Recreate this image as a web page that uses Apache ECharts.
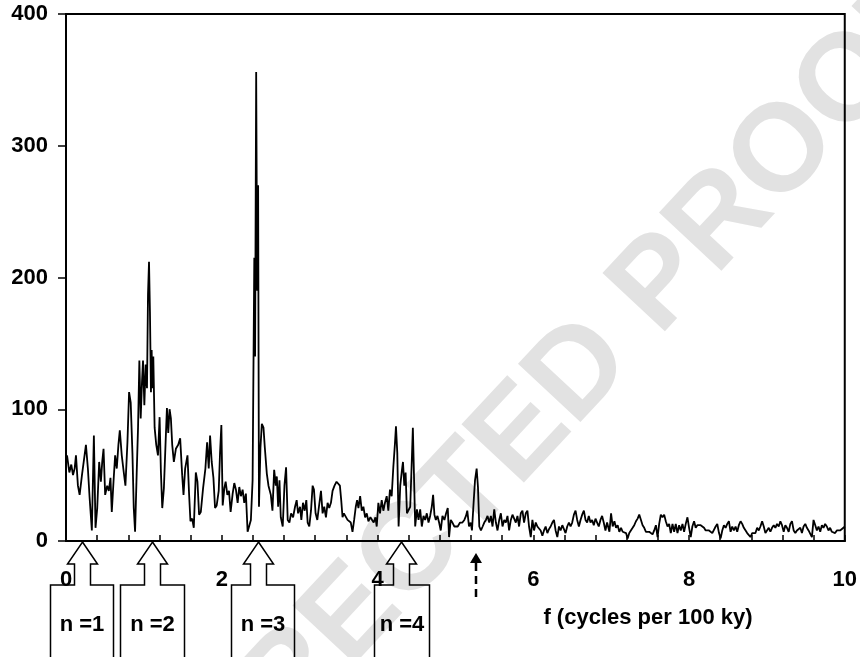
<!DOCTYPE html>
<html>
<head>
<meta charset="utf-8">
<script src="https://cdn.jsdelivr.net/npm/echarts/dist/echarts.min.js"></script>
<style>
  html, body { margin: 0; padding: 0; background: #fff; }
  #chart { width: 860px; height: 657px; }
</style>
</head>
<body>
<div id="chart"></div>
<script>
// frequency (cycles per 100 ky) and spectral power
var freq = [
    0.013, 0.043, 0.068, 0.090, 0.111, 0.128, 0.153, 0.175, 0.205, 0.230, 0.256, 0.281, 0.303, 0.332, 0.358, 0.379,
    0.401, 0.426, 0.448, 0.465, 0.482, 0.503, 0.529, 0.550, 0.571, 0.588, 0.610, 0.631, 0.652, 0.673, 0.691, 0.716,
    0.742, 0.763, 0.789, 0.810, 0.831, 0.853, 0.870, 0.887, 0.908, 0.925, 0.942, 0.959, 0.976, 0.989, 1.006, 1.023,
    1.040, 1.053, 1.066, 1.078, 1.091, 1.100, 1.108, 1.121, 1.138, 1.159, 1.181, 1.202, 1.219, 1.236, 1.257, 1.279,
    1.296, 1.313, 1.330, 1.347, 1.364, 1.385, 1.411, 1.441, 1.466, 1.492, 1.509, 1.530, 1.560, 1.581, 1.598, 1.620,
    1.641, 1.667, 1.688, 1.709, 1.731, 1.760, 1.790, 1.812, 1.833, 1.850, 1.871, 1.893, 1.914, 1.935, 1.961, 1.978,
    1.995, 2.012, 2.033, 2.050, 2.072, 2.093, 2.114,
    2.140, 2.161, 2.182, 2.204, 2.225, 2.246, 2.268, 2.289, 2.310, 2.332, 2.353, 2.374, 2.396, 2.418, 2.428, 2.442,
    2.455, 2.467, 2.478, 2.497, 2.515, 2.536, 2.553, 2.579, 2.600, 2.630, 2.651, 2.673, 2.694, 2.707, 2.724, 2.741,
    2.758, 2.783, 2.805, 2.826, 2.847, 2.869, 2.890, 2.916, 2.941, 2.962, 2.980, 3.005, 3.022, 3.043, 3.065, 3.086,
    3.103, 3.124, 3.146, 3.167, 3.184, 3.205, 3.227, 3.248, 3.274, 3.295, 3.316, 3.338, 3.359, 3.380, 3.402, 3.423,
    3.448, 3.474, 3.495, 3.517, 3.534, 3.551, 3.568, 3.593, 3.615, 3.636, 3.657, 3.679, 3.700, 3.721, 3.738, 3.755,
    3.777, 3.798, 3.819, 3.841, 3.862, 3.883, 3.909, 3.930, 3.951, 3.973, 3.990, 4.011, 4.032, 4.054, 4.075, 4.096,
    4.118, 4.139, 4.160, 4.182, 4.203, 4.224, 4.237, 4.254, 4.271, 4.292, 4.314, 4.327, 4.344, 4.361, 4.378, 4.399,
    4.420, 4.442, 4.454,
    4.484, 4.506, 4.527, 4.548, 4.569, 4.591, 4.612, 4.633, 4.655, 4.676, 4.697, 4.714, 4.731, 4.749, 4.770, 4.791,
    4.812, 4.834, 4.859, 4.881, 4.902, 4.919, 4.940, 4.962, 4.987, 5.009, 5.030, 5.060, 5.090, 5.115, 5.136, 5.153,
    5.175, 5.196, 5.213, 5.234, 5.252, 5.273, 5.290, 5.307, 5.328, 5.350, 5.371, 5.392, 5.413, 5.435, 5.456, 5.477,
    5.499, 5.520, 5.541, 5.563, 5.584, 5.605, 5.627, 5.648, 5.669, 5.690, 5.712, 5.733, 5.754, 5.776, 5.797, 5.818,
    5.840, 5.861, 5.882, 5.904, 5.925, 5.946, 5.968, 5.989, 6.010, 6.032, 6.053, 6.074, 6.095, 6.117, 6.138, 6.159,
    6.181, 6.202, 6.223, 6.245, 6.266, 6.287, 6.309, 6.330, 6.351, 6.373, 6.394, 6.415, 6.436, 6.458, 6.479, 6.500,
    6.522, 6.543, 6.564, 6.586, 6.607, 6.628, 6.650, 6.671, 6.692, 6.713, 6.735, 6.756, 6.777, 6.799, 6.820, 6.841,
    6.863, 6.884, 6.905, 6.927, 6.948,
    6.978, 6.999, 7.020, 7.042, 7.063, 7.084, 7.105, 7.127, 7.148, 7.169, 7.191, 7.212, 7.233, 7.255, 7.276, 7.297,
    7.319, 7.340, 7.361, 7.383, 7.404, 7.425, 7.447, 7.468, 7.489, 7.511, 7.532, 7.553, 7.575, 7.596, 7.617, 7.638,
    7.660, 7.681, 7.702, 7.724, 7.745, 7.766, 7.788, 7.809, 7.830, 7.852, 7.873, 7.894, 7.916, 7.937, 7.958, 7.980,
    8.001, 8.022, 8.043, 8.065, 8.086, 8.107, 8.129, 8.150, 8.171, 8.193, 8.214, 8.235, 8.257, 8.278, 8.299, 8.321,
    8.342, 8.363, 8.385, 8.406, 8.427, 8.448, 8.470, 8.491, 8.512, 8.534, 8.555, 8.576, 8.598, 8.619, 8.640, 8.662,
    8.683, 8.704, 8.725, 8.747, 8.768, 8.789, 8.811, 8.832, 8.853, 8.875, 8.896, 8.917, 8.939, 8.960, 8.981, 9.003,
    9.024, 9.045, 9.066, 9.088, 9.109, 9.130, 9.152, 9.173, 9.194, 9.216, 9.237, 9.258, 9.280, 9.301, 9.322, 9.344,
    9.365, 9.386, 9.407, 9.429, 9.450, 9.471, 9.493, 9.514, 9.535, 9.557, 9.578, 9.599, 9.621, 9.642, 9.663, 9.685,
    9.706, 9.727, 9.748, 9.770, 9.791, 9.812, 9.834, 9.855, 9.876, 9.898, 9.919, 9.940, 9.962, 9.983, 10.0
];
var power = [
    65, 52, 58, 50, 55, 65, 42, 35, 50, 50, 73, 55, 33, 8, 80, 10,
    25, 60, 45, 60, 70, 35, 42, 38, 48, 22, 45, 65, 55, 73, 84, 65,
    52, 42, 75, 113, 105, 67, 25, 7, 52, 86, 137, 93, 121, 137, 103, 134,
    116, 187, 212, 174, 113, 145, 116, 140, 86, 73, 65, 94, 52, 25, 40, 75,
    101, 82, 100, 93, 73, 60, 70, 73, 78, 50, 35, 55, 65, 35, 15, 17,
    10, 52, 45, 20, 22, 40, 55, 75, 55, 80, 60, 48, 25, 27, 38, 67,
    88, 27, 40, 45, 35, 38, 22,
    36, 44, 39, 29, 41, 34, 39, 29, 36, 7, 6, 16, 46, 215, 140, 356,
    190, 270, 26, 71, 89, 86, 71, 51, 42, 35, 23, 54, 42, 49, 26, 46,
    18, 11, 42, 56, 16, 14, 21, 18, 26, 31, 21, 26, 16, 29, 23, 31,
    14, 11, 23, 42, 39, 21, 16, 26, 38, 21, 26, 18, 29, 25, 29, 38,
    42, 45, 46, 42, 31, 18, 21, 21, 16, 17, 14, 7, 16, 26, 31, 25,
    34, 23, 26, 18, 21, 15, 18, 16, 14, 18, 11, 29, 21, 31, 23, 29,
    34, 23, 39, 34, 56, 74, 87, 67, 11, 42, 54, 60, 42, 52, 21, 21,
    26, 64, 86,
    11, 24, 16, 24, 11, 19, 16, 21, 14, 19, 26, 35, 20, 16, 19, 14,
    8, 19, 16, 21, 25, 3, 16, 14, 11, 12, 11, 14, 14, 16, 19, 23,
    11, 14, 8, 29, 46, 55, 41, 11, 8, 11, 14, 16, 19, 14, 19, 11,
    24, 14, 8, 16, 21, 11, 16, 14, 19, 8, 16, 20, 21, 14, 19, 11,
    21, 23, 14, 21, 23, 11, 3, 16, 8, 14, 11, 11, 8, 4, 8, 11,
    6, 9, 11, 14, 16, 8, 3, 11, 8, 12, 11, 6, 11, 14, 11, 14,
    20, 23, 16, 11, 16, 20, 23, 16, 14, 19, 14, 16, 12, 17, 14, 11,
    16, 19, 14, 8, 14,
    7, 21, 11, 15, 10, 12, 7, 10, 7, 8, 6, 2, 6, 7, 10, 12,
    15, 17, 20, 16, 12, 10, 7, 6, 7, 6, 5, 8, 12, 3, 13, 20,
    18, 20, 15, 11, 13, 6, 13, 7, 13, 6, 12, 8, 13, 7, 13, 18,
    10, 3, 11, 15, 10, 12, 11, 12, 11, 10, 8, 7, 8, 7, 6, 7,
    11, 13, 6, 2, 8, 12, 10, 13, 15, 7, 11, 8, 11, 7, 12, 15,
    13, 10, 11, 6, 7, 3, 6, 7, 6, 10, 8, 11, 15, 11, 6, 7,
    10, 7, 10, 12, 10, 13, 11, 15, 12, 7, 12, 10, 7, 13, 15, 8,
    6, 8, 7, 10, 6, 11, 13, 10, 8, 7, 3, 16, 12, 8, 11, 7,
    12, 10, 13, 11, 8, 10, 7, 8, 6, 8, 7, 8, 7, 10, 11
];
var yTicks = [0, 100, 200, 300, 400];
var xLabels = [0, 2, 4, 6, 8, 10];

// harmonic arrows n = 1..4 and the dashed marker
var harmonicFreq = [0.205, 1.11, 2.47, 4.30];
var harmonicText = ['n =1', 'n =2', 'n =3', 'n =4'];
var markerFreq = 5.27;

var FONT = '"Liberation Sans", Arial, sans-serif';
var chart = echarts.init(document.getElementById('chart'));

var seriesData = [];
for (var i = 0; i < freq.length; i++) {
    seriesData.push([freq[i], power[i]]);
}

chart.setOption({
    animation: false,
    backgroundColor: '#fff',
    grid: {
        left: 66,
        right: 12,
        top: 14,
        bottom: 116,
        show: true,
        borderColor: '#000',
        borderWidth: 2
    },
    xAxis: {
        type: 'value',
        min: 0,
        max: 10,
        interval: 0.4,
        axisLine: { lineStyle: { color: '#000', width: 2 } },
        axisTick: { inside: true, length: 6, lineStyle: { color: '#000', width: 1.5 } },
        splitLine: { show: false },
        axisLabel: {
            interval: 0,
            margin: 28,
            color: '#000',
            fontFamily: FONT,
            fontWeight: 'bold',
            fontSize: 22,
            formatter: function (v) {
                for (var k = 0; k < xLabels.length; k++) {
                    if (Math.abs(v - xLabels[k]) < 1e-6) return String(xLabels[k]);
                }
                return '';
            }
        }
    },
    yAxis: {
        type: 'value',
        min: yTicks[0],
        max: yTicks[yTicks.length - 1],
        interval: 100,
        axisLine: { show: true, lineStyle: { color: '#000', width: 2 } },
        axisTick: { show: true, inside: false, length: 8, lineStyle: { color: '#000', width: 1.5 } },
        splitLine: { show: false },
        axisLabel: {
            margin: 18,
            color: '#000',
            fontFamily: FONT,
            fontWeight: 'bold',
            fontSize: 22
        }
    },
    series: [{
        type: 'line',
        data: seriesData,
        showSymbol: false,
        symbol: 'none',
        lineStyle: { color: '#000', width: 1.8 },
        z: 3
    }]
});

// annotations placed from the axis scales
var y0 = chart.convertToPixel({ yAxisIndex: 0 }, 0);
var boxSides = [[-32, 31], [-32, 32], [-27, 36], [-27, 28]];
var graphics = [];

graphics.push({
    type: 'text',
    x: 444,
    y: 518,
    rotation: 47 * Math.PI / 180,
    z: -10,
    silent: true,
    style: {
        text: 'UNCORRECTED PROOF',
        fill: '#e2e2e2',
        font: 'bold 124px ' + FONT,
        textAlign: 'center',
        textVerticalAlign: 'middle'
    }
});

for (var j = 0; j < harmonicFreq.length; j++) {
    var tx = Math.round(chart.convertToPixel({ xAxisIndex: 0 }, harmonicFreq[j])) + 0.5;
    var bl = boxSides[j][0], br = boxSides[j][1];
    var t = y0 + 1;
    graphics.push({
        type: 'polygon',
        z: 10,
        shape: {
            points: [
                [tx, t], [tx + 15, t + 22], [tx + 8, t + 22], [tx + 8, t + 43],
                [tx + br, t + 43], [tx + br, t + 130], [tx + bl, t + 130], [tx + bl, t + 43],
                [tx - 8, t + 43], [tx - 8, t + 22], [tx - 15, t + 22]
            ]
        },
        style: { fill: 'none', stroke: '#000', lineWidth: 1.5 }
    });
    graphics.push({
        type: 'text',
        z: 11,
        x: tx + (bl + br) / 2,
        y: 625,
        style: {
            text: harmonicText[j],
            fill: '#000',
            font: 'bold 22px ' + FONT,
            textAlign: 'center',
            textVerticalAlign: 'middle'
        }
    });
}

var mx = Math.round(chart.convertToPixel({ xAxisIndex: 0 }, markerFreq));
graphics.push({
    type: 'polygon',
    z: 10,
    shape: { points: [[mx, y0 + 12], [mx - 6, y0 + 22], [mx + 6, y0 + 22]] },
    style: { fill: '#000' }
});
graphics.push({
    type: 'line',
    z: 10,
    shape: { x1: mx, y1: y0 + 22, x2: mx, y2: y0 + 58 },
    style: { stroke: '#000', lineWidth: 2.5, lineDash: [8, 5] }
});

graphics.push({
    type: 'text',
    z: 10,
    x: 648,
    y: 618,
    style: {
        text: 'f (cycles per 100 ky)',
        fill: '#000',
        font: 'bold 22px ' + FONT,
        textAlign: 'center',
        textVerticalAlign: 'middle'
    }
});

chart.setOption({ graphic: graphics });
</script>
</body>
</html>
